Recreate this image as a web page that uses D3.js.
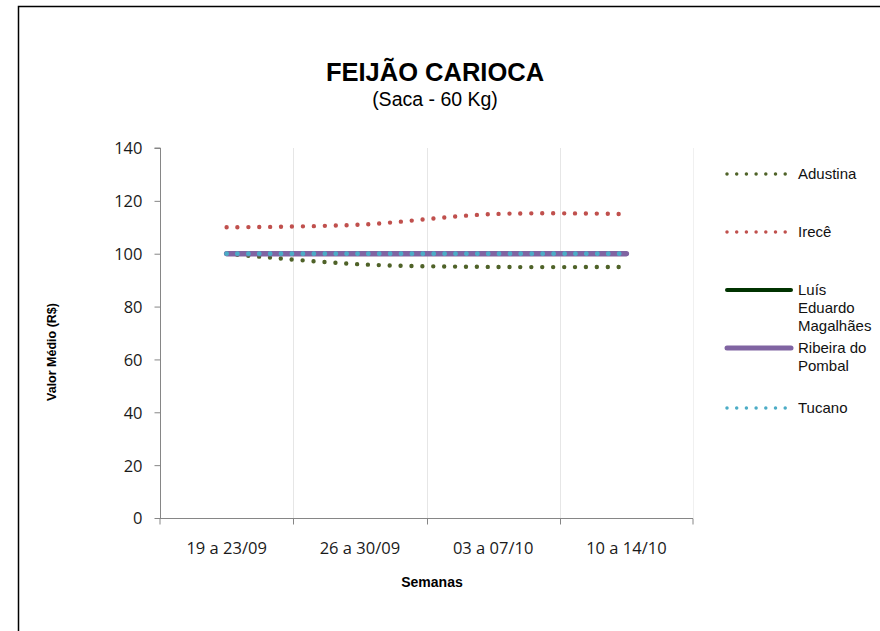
<!DOCTYPE html>
<html>
<head>
<meta charset="utf-8">
<script src="https://cdn.jsdelivr.net/npm/d3@7"></script>
<style>
  body { margin: 0; background: #fff; }
  svg { display: block; }
  .axis path, .axis line { stroke: #868686; }
  .axis text { font-family: "Open Sans", sans-serif; font-size: 16.5px; fill: #1a1a1a; }
</style>
</head>
<body>
<div id="chart"></div>
<script>
var weeks = ["19 a 23/09", "26 a 30/09", "03 a 07/10", "10 a 14/10"];
var adustina = [100, 96, 95, 95];
var irece = [110, 111, 115, 115];
var luisEduardo = [100, 100, 100, 100];
var ribeira = [100, 100, 100, 100];
var tucano = [100, 100, 100, 100];
var yTicks = [0, 20, 40, 60, 80, 100, 120, 140];

var width = 880, height = 631;
var margin = { left: 160, right: 187, top: 148, bottom: 113 };

var series = [
  { name: ["Adustina"], values: adustina, color: "#4F6228", width: 4.4, dash: "0 10.9", legendY: 174 },
  { name: ["Irecê"], values: irece, color: "#C0504D", width: 4.4, dash: "0 10.9", legendY: 232 },
  { name: ["Luís", "Eduardo", "Magalhães"], values: luisEduardo, color: "#003300", width: 4, dash: null, legendY: 290 },
  { name: ["Ribeira do", "Pombal"], values: ribeira, color: "#8064A2", width: 5.5, dash: null, legendY: 348 },
  { name: ["Tucano"], values: tucano, color: "#4BACC6", width: 4.8, dash: "0 10.9", legendY: 408 }
];

var svg = d3.select("#chart").append("svg")
    .attr("width", width)
    .attr("height", height);

// outer frame (cropped at right and bottom)
svg.append("path")
    .attr("d", "M18.5," + height + "V6.5H" + width)
    .attr("fill", "none")
    .attr("stroke", "#000")
    .attr("stroke-width", 1.5);

var x = d3.scaleBand()
    .domain(weeks)
    .range([margin.left, width - margin.right]);

var y = d3.scaleLinear()
    .domain([0, 140])
    .range([height - margin.bottom, margin.top]);

// vertical gridlines
svg.append("g")
    .selectAll("line")
    .data(weeks.slice(1).concat(["end"]))
    .enter().append("line")
    .attr("x1", function(d, i) { return Math.round(margin.left + x.bandwidth() * (i + 1)) + 0.5; })
    .attr("x2", function(d, i) { return Math.round(margin.left + x.bandwidth() * (i + 1)) + 0.5; })
    .attr("y1", y(140))
    .attr("y2", y(0))
    .attr("stroke", function(d, i) { return i < 3 ? "#E6E6E6" : "#F0F0F0"; })
    .attr("stroke-width", 1);

// y axis
svg.append("g")
    .attr("class", "y axis")
    .attr("transform", "translate(" + (margin.left + 0.5) + ",0)")
    .call(d3.axisLeft(y).tickValues(yTicks).tickSize(6).tickPadding(12))
    .call(function(g) { g.select(".domain").attr("d", "M-6," + y(140) + "H0V" + y(0)); })
    .selectAll("text").attr("dy", "0.36em");

// x axis
var xAxis = svg.append("g")
    .attr("class", "x axis")
    .attr("transform", "translate(0," + (y(0) + 0.5) + ")")
    .call(d3.axisBottom(x).tickSize(0).tickPadding(24));
xAxis.select(".domain").attr("d", "M" + margin.left + ",6V0H" + (width - margin.right) + "V6");
xAxis.selectAll(".bnd")
    .data(weeks.slice(1))
    .enter().append("line")
    .attr("class", "bnd")
    .attr("x1", function(d) { return Math.round(x(d)) + 0.5; })
    .attr("x2", function(d) { return Math.round(x(d)) + 0.5; })
    .attr("y1", 0)
    .attr("y2", 6);

// lines
var line = d3.line()
    .x(function(d, i) { return x(weeks[i]) + x.bandwidth() / 2; })
    .y(function(d) { return y(d); })
    .curve(d3.curveCatmullRom.alpha(0));

series.forEach(function(s) {
  svg.append("path")
      .attr("d", line(s.values))
      .attr("fill", "none")
      .attr("stroke", s.color)
      .attr("stroke-width", s.width)
      .attr("stroke-linecap", "round")
      .attr("stroke-dasharray", s.dash);
});

// legend
var legend = svg.append("g");
series.forEach(function(s) {
  legend.append("line")
      .attr("x1", 727).attr("x2", 791)
      .attr("y1", s.legendY).attr("y2", s.legendY)
      .attr("stroke", s.color)
      .attr("stroke-width", s.dash ? 3.5 : (s.width > 5 ? 5 : 4))
      .attr("stroke-linecap", "round")
      .attr("stroke-dasharray", s.dash ? "0 9.7" : null);
  var t = legend.append("text")
      .attr("x", 798)
      .attr("y", s.legendY + 5)
      .style("font-family", "'Liberation Sans', Arial, sans-serif")
      .style("font-size", "15px")
      .style("fill", "#111");
  s.name.forEach(function(n, i) {
    t.append("tspan").attr("x", 798).attr("dy", i ? 18 : 0).text(n);
  });
});

// titles
svg.append("text")
    .attr("x", 435).attr("y", 81)
    .attr("text-anchor", "middle")
    .style("font-family", "'Liberation Sans', Arial, sans-serif")
    .style("font-weight", "bold")
    .style("font-size", "25.5px")
    .text("FEIJÃO CARIOCA");

svg.append("text")
    .attr("x", 435).attr("y", 106)
    .attr("text-anchor", "middle")
    .style("font-family", "'Liberation Sans', Arial, sans-serif")
    .style("font-size", "19.5px")
    .text("(Saca - 60 Kg)");

svg.append("text")
    .attr("transform", "translate(56,352) rotate(-90)")
    .attr("text-anchor", "middle")
    .style("font-family", "'Liberation Sans', Arial, sans-serif")
    .style("font-weight", "bold")
    .style("font-size", "12.5px")
    .text("Valor Médio (R$)");

svg.append("text")
    .attr("x", 432).attr("y", 587)
    .attr("text-anchor", "middle")
    .style("font-family", "'Liberation Sans', Arial, sans-serif")
    .style("font-weight", "bold")
    .style("font-size", "14px")
    .text("Semanas");
</script>
</body>
</html>
